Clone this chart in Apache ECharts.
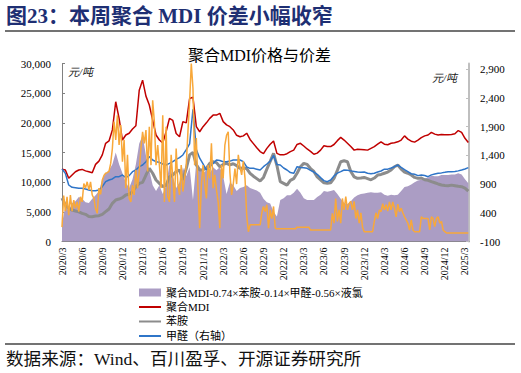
<!DOCTYPE html>
<html><head><meta charset="utf-8">
<script src="https://cdn.jsdelivr.net/npm/echarts@6/dist/echarts.min.js"></script>
<style>html,body{margin:0;padding:0;background:#fff}#c{width:521px;height:373px}</style>
</head><body><div id="c"></div>
<script>
// x positions are months since 2020/3
const tickLabels = ['2020/3','2020/6','2020/9','2020/12','2021/3','2021/6','2021/9','2021/12','2022/3','2022/6','2022/9','2022/12','2023/3','2023/6','2023/9','2023/12','2024/3','2024/6','2024/9','2024/12','2025/3'];

// semi-monthly (step 0.5 month), left axis
const spreadValues = [3000,6000,5200,6500,6800,7500,7200,6600,6500,7200,
7800,8500,10500,11500,12000,13000,15000,13000,11500,10000,
9000,10500,13000,16500,17900,14500,12000,9500,8500,9500,
8000,9500,13000,11000,9000,10000,12500,11000,12500,7000,
13500,12500,11500,12000,11500,12500,12000,12500,11000,8000,
10000,9500,8500,9000,9200,9500,9000,8800,8600,8200,
7200,6600,6400,5000,4200,7000,7300,7800,7800,8200,
8900,8200,7300,7000,7000,7000,7500,7900,8500,8400,
8500,8700,8000,7200,6500,6300,6800,7400,7800,8000,
8100,8200,8300,8200,8200,8300,7900,7700,7900,7800,
7900,8500,9200,9300,9600,10000,10300,10400,10600,10800,
11100,11000,11000,11200,11200,11200,11300,11300,11500,11300,
10500,9800];

const mdiValues = [12200,12050,10650,11200,11750,12050,12150,11900,11750,11600,
13000,13550,14600,16550,16950,18800,23550,20750,17100,17950,
18250,18950,19500,25500,27200,24500,23000,20450,17950,17100,
16600,18500,20750,20400,18200,17650,20200,20000,24100,24300,
19350,18500,19350,20000,20750,21300,21300,21600,20200,19650,
19350,18800,17900,17650,17800,18250,17200,16500,15800,15150,
14800,15700,16400,16950,14850,14600,14600,14800,15150,15400,
16350,16550,16100,15600,15200,14700,14900,15400,16150,16000,
16000,16350,17000,17550,17100,16550,16000,15400,15550,15500,
15450,15400,15700,16000,16400,16800,16400,16300,16550,16650,
16800,17100,17800,17250,16900,16750,17100,17500,17800,17950,
18400,18100,17950,18050,18000,18000,18050,18150,18700,18400,
17400,16700];

const anilineValues = [7300,6150,5600,5300,5150,5000,4750,4580,4200,4180,
4300,4350,4580,5030,5470,6430,7000,7160,7390,7840,
7950,8400,9240,9800,9970,11200,12330,11500,10360,9800,
9240,9500,10900,11200,11770,12050,10400,12300,14600,15000,
12900,12050,12100,12330,13170,13450,13300,12600,13000,13170,
12900,13100,12800,12330,12400,12300,11500,11000,10600,10200,
10800,12200,13500,14850,12800,10080,9800,9500,10300,10600,
11500,12600,13170,13000,12300,11800,10900,10400,9900,9800,
9900,10650,12000,13450,13600,13450,11800,10900,10650,10700,
10800,10600,10400,10700,11200,11300,11500,11700,12050,12600,
12890,12200,11700,11500,11200,10800,10640,10700,10400,10300,
10080,9900,9700,9520,9450,9400,9500,9400,9300,9240,
9000,8500];

// right axis
const formaldehydeValues = [1163,1087,884,843,838,826,826,814,797,785,
785,797,855,942,971,989,1029,1029,1058,1012,
1047,1116,1145,1203,1232,1290,1378,1320,1290,1279,
1250,1232,1260,1290,1330,1360,1407,1500,1600,2200,
1500,1350,1250,1145,1200,1260,1320,1310,1290,1290,
1300,1320,1320,1320,1290,1200,1174,1174,1160,1145,
1203,1250,1300,1400,1240,1232,1180,1145,1100,1087,
1203,1190,1186,1175,1140,1110,1070,1012,960,942,
971,1040,1090,1116,1145,1140,1130,1120,1110,1105,
1110,1090,1080,1090,1110,1128,1160,1160,1180,1203,
1232,1190,1150,1116,1080,1070,1047,1060,1050,1029,
1060,1075,1087,1095,1105,1116,1116,1120,1130,1145,
1163,1186];

// quarter-monthly (step 0.25 month), right axis
const chlorineValues = [150,700,430,680,360,710,430,620,480,590,
420,680,590,910,830,940,800,940,710,650,
470,390,830,720,970,1050,1090,1100,1120,1260,
1520,1990,1670,2100,1580,1930,1290,1670,830,1410,
650,590,880,710,1150,830,1120,1520,1810,1610,
1840,1120,1900,1230,2360,1990,1230,1580,1230,830,
2100,590,1900,680,590,1410,1000,590,1520,900,
710,1230,770,1000,1230,1810,2340,3000,2570,1230,
1700,830,130,880,1230,900,650,1230,1000,1610,
830,1060,800,590,130,1230,1000,1580,1750,1810,
1100,710,900,1170,900,1410,1200,1060,1300,1000,
360,70,190,190,190,190,190,190,190,400,
510,420,540,130,450,300,510,130,120,120,
120,120,120,120,120,120,120,120,120,120,
150,150,150,150,150,150,150,150,
100,100,100,100,100,100,100,100,100,100,100,100,100,
390,220,650,250,450,220,650,450,680,
450,560,600,450,600,300,450,220,400,150,
70,70,70,70,70,70,
250,400,300,450,420,560,450,540,430,590,450,590,480,330,
550,420,480,400,330,275,220,100,275,100,
70,70,70,70,
330,300,300,300,300,100,330,300,160,300,330,220,250,100,
70,
50,50,50,50,50,50,50,50,50,50,50,50,50,50];

const seriesNames = ['聚合MDI-0.74×苯胺-0.14×甲醛-0.56×液氯','聚合MDI','苯胺','甲醛（右轴）','液氯'];

function toPairs(arr, step){ return arr.map((v,i)=>[i*step, v]); }

const serifCJK = "'Liberation Serif','Noto Sans CJK SC',serif";
const chart = echarts.init(document.getElementById('c'), null, {renderer:'svg'});
chart.setOption({
  animation:false,
  backgroundColor:'#fff',
  grid:{left:62, right:52, top:63.5, bottom:131.5, containLabel:false},
  graphic:[
    {type:'text', left:6, top:5, style:{text:'图23：本周聚合 MDI 价差小幅收窄', font:"bold 21px "+serifCJK, fill:'#1e2f73'}},
    {type:'line', shape:{x1:5,y1:31,x2:515,y2:31}, style:{stroke:'#444', lineWidth:1.5}},
    {type:'text', left:188, top:47, style:{text:'聚合MDI价格与价差', font:"16px "+serifCJK, fill:'#000'}},
    {type:'text', left:68, top:66, style:{text:'元/吨', font:"italic 11px "+serifCJK, fill:'#222'}},
    {type:'text', left:432, top:72, style:{text:'元/吨', font:"italic 11px "+serifCJK, fill:'#222'}},
    {type:'line', shape:{x1:5,y1:344,x2:515,y2:344}, style:{stroke:'#444', lineWidth:1.5}},
    {type:'text', left:6, top:350, style:{text:'数据来源：Wind、百川盈孚、开源证券研究所', font:"17.6px "+serifCJK, fill:'#111'}}
  ],
  legend:{
    orient:'vertical', left:133, top:282, itemWidth:22, itemHeight:8, itemGap:3.5,
    textStyle:{fontSize:11, fontFamily:serifCJK, color:'#000'},
    data:[
      {name:seriesNames[0], icon:'rect'},
      {name:seriesNames[1], itemStyle:{opacity:0}},
      {name:seriesNames[2], itemStyle:{opacity:0}},
      {name:seriesNames[3], itemStyle:{opacity:0}}
    ]
  },
  xAxis:{
    type:'value', min:0, max:60.6, interval:3,
    axisLine:{show:true, lineStyle:{color:'#808080', width:1}},
    axisTick:{show:true, inside:true, length:3, lineStyle:{color:'#808080'}},
    splitLine:{show:false},
    axisLabel:{rotate:90, margin:6, fontSize:10, fontFamily:"'Liberation Serif',serif", color:'#000',
      showMaxLabel:false,
      formatter:function(v){ if (Math.abs(v/3 - Math.round(v/3))>1e-6) return ''; return tickLabels[Math.round(v/3)] || ''; }}
  },
  yAxis:[
    {type:'value', min:0, max:30000, interval:5000,
     axisLine:{show:true, lineStyle:{color:'#808080'}},
     axisTick:{show:true, inside:true, length:3, lineStyle:{color:'#808080'}},
     splitLine:{show:false},
     axisLabel:{margin:11, fontSize:11, fontFamily:"'Liberation Serif',serif", color:'#000',
       formatter:function(v){return v.toLocaleString('en-US');}}},
    {type:'value', min:-100, max:3000, interval:500, position:'right',
     axisLine:{show:true, lineStyle:{color:'#bfbfbf', width:2}},
     axisTick:{show:true, inside:true, length:3, lineStyle:{color:'#bfbfbf'}},
     splitLine:{show:false},
     axisLabel:{margin:11, fontSize:11, fontFamily:"'Liberation Serif',serif", color:'#000', showMaxLabel:false,
       formatter:function(v){return v.toLocaleString('en-US');}}}
  ],
  series:[
    {name:seriesNames[0], type:'line', yAxisIndex:0, data:toPairs(spreadValues,0.5), symbol:'none',
     itemStyle:{color:'#ab9dc4'}, lineStyle:{width:0, color:'#ab9dc4'}, areaStyle:{color:'#ab9dc4', opacity:1}, z:1},
    {name:seriesNames[1], type:'line', yAxisIndex:0, data:toPairs(mdiValues,0.5), symbol:'none',
     itemStyle:{color:'#c00000'}, lineStyle:{width:1.5, color:'#c00000'}, z:3},
    {name:seriesNames[2], type:'line', yAxisIndex:0, data:toPairs(anilineValues,0.5), symbol:'none',
     itemStyle:{color:'#8c8c8c'}, lineStyle:{width:3, color:'#8c8c8c'}, z:3},
    {name:seriesNames[3], type:'line', yAxisIndex:1, data:toPairs(formaldehydeValues,0.5), symbol:'none',
     itemStyle:{color:'#2f75c8'}, lineStyle:{width:1.5, color:'#2f75c8'}, z:4},
    {name:seriesNames[4], type:'line', yAxisIndex:1, data:toPairs(chlorineValues,0.25), symbol:'none',
     itemStyle:{color:'#f8a83a'}, lineStyle:{width:1.5, color:'#f8a83a'}, z:5}
  ]
});
</script></body></html>
